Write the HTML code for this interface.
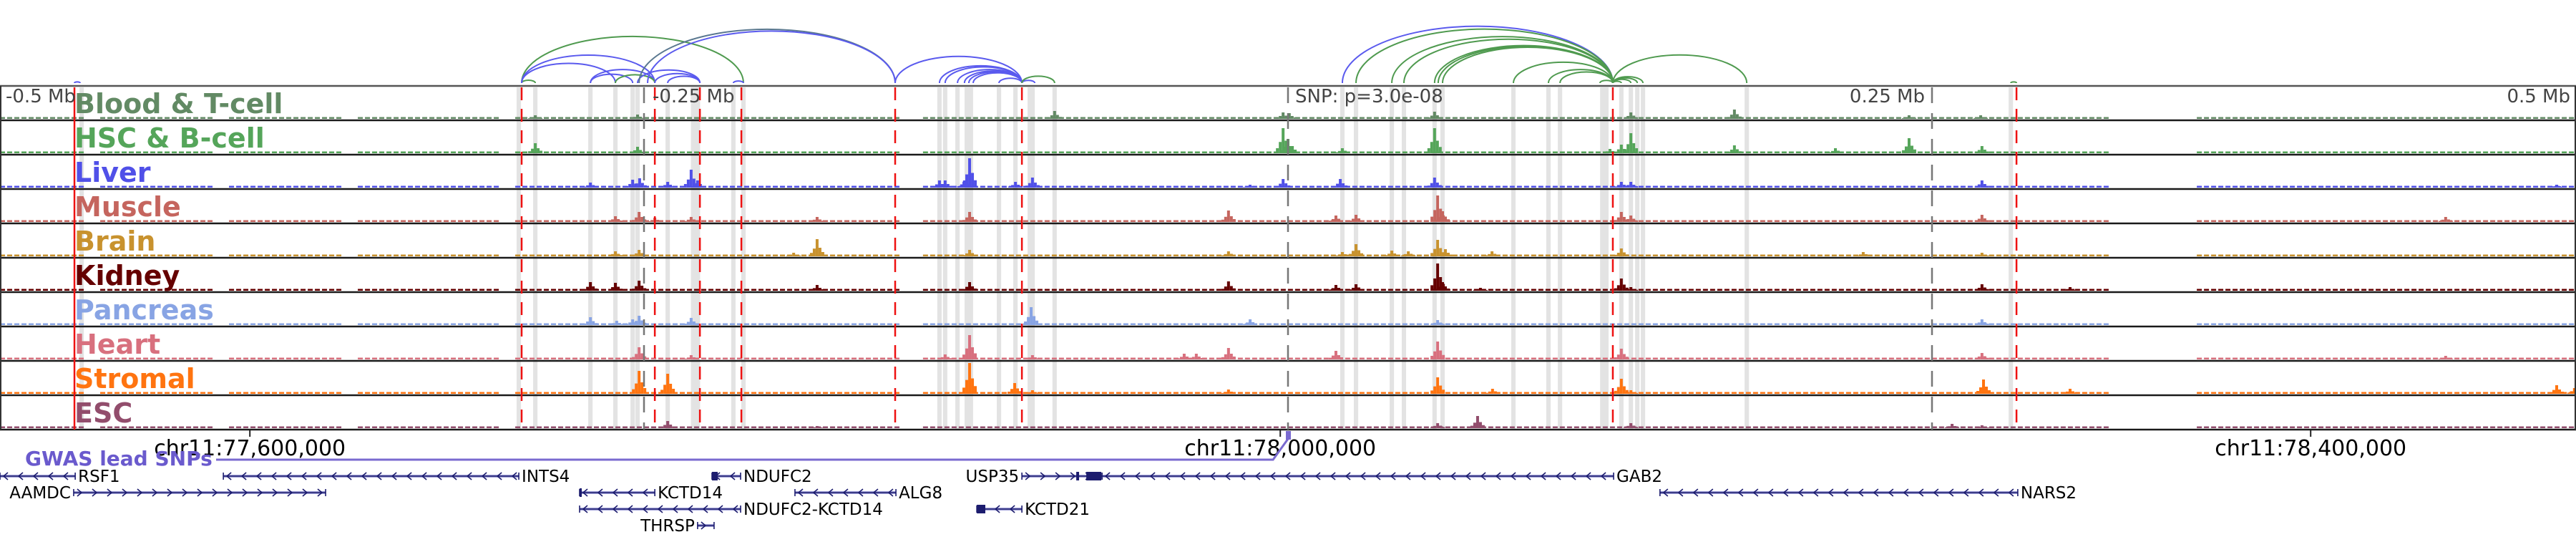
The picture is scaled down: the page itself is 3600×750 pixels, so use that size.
<!DOCTYPE html>
<html><head><meta charset="utf-8"><style>
html,body{margin:0;padding:0;background:#fff;}
svg{display:block;font-family:"DejaVu Sans","Liberation Sans",sans-serif;}
</style></head><body>
<svg id="fig" width="3600" height="750" viewBox="0 0 3600 750" xmlns="http://www.w3.org/2000/svg"></svg>
<script>
// ---- data (genomic offsets in kb relative to lead SNP at chr11:78,003,000) ----
const snpBp = 78003000;
const trackNames = ["Blood & T-cell","HSC & B-cell","Liver","Muscle","Brain","Kidney","Pancreas","Heart","Stromal","ESC"];
const trackColors = ["#628a64","#55a55a","#5050e8","#c5655e","#c8922e","#650000","#88a4e4","#d8707e","#ff7410","#924d6c"];
const gwasSnps = [-471.1,-297.5,-245.8,-228.3,-212.2,-152.5,-103.3,126.1,282.8];
const mbTicks = [-250,0,250];
const highlightBands = [[-468.3,1.7],[-298.6,1.7],[-292.2,1.7],[-270.8,1.7],[-261.1,1.7],[-254.4,1.7],[-252.5,1.7],[-240.8,1.7],[-230.0,3.6],[-215.3,1.7],[-211.4,1.7],[-135.3,1.7],[-133.1,1.7],[-128.3,1.7],[-123.9,3.3],[-112.2,1.7],[-105.8,1.7],[-99.7,2.8],[-90.6,1.7],[21.1,1.7],[26.4,1.7],[40.3,1.7],[45.0,1.7],[56.9,1.7],[60.0,1.7],[87.5,1.7],[101.1,1.7],[105.6,1.7],[122.8,3.3],[129.4,1.7],[133.1,1.7],[135.6,1.7],[137.8,1.7],[178.1,1.7],[280.6,1.7]];
const arcStarts = [-471.1,-297.5,-297.5,-297.5,-297.5,-270.8,-270.8,-261.1,-252.5,-240.8,-245.8,-251.9,-248.6,-215.3,-152.5,-135.3,-133.1,-128.3,-125.6,-123.9,-122.2,-112.2,-103.3,-103.3,21.1,26.4,40.3,45.0,56.9,58.3,60.0,87.5,101.1,105.6,121.1,126.1,126.1,126.1,126.1,126.1,280.6];
const arcEnds   = [-468.9,-292.2,-211.4,-261.1,-245.8,-245.8,-254.4,-245.8,-228.3,-228.3,-228.3,-152.5,-152.5,-211.4,-103.3,-103.3,-103.3,-103.3,-103.3,-103.3,-103.3,-103.3,-98.3,-90.6,126.1,126.1,126.1,126.1,126.1,126.1,126.1,126.1,126.1,126.1,126.1,129.4,133.1,135.6,137.8,178.1,282.8];
const arcTypes  = ["b","g","g","b","b","b","b","g","b","b","b","s","b","b","b","b","b","b","b","b","b","b","b","g","b","g","g","g","g","g","g","g","g","g","g","g","g","g","g","g","g"];
const background = [[-500,-466.7],[-461.1,-416.7],[-411.1,-366.7],[-361.1,-305.6],[-300,-150],[-141.7,316.7],[352.8,500]];
const peaksBlood = [[-292.2,5],[-252.5,6],[-90.6,11],[-1.9,9],[0.5,8],[56.9,10],[133.1,9],[173.3,13],[241.1,5],[268.9,5]];
const peaksHSC = [[-292.2,14],[-252.5,9],[-1.9,35],[0,20],[1.7,10],[21.1,7],[56.9,35],[133.1,28],[129.4,12],[125,6],[173.3,11],[212.5,7],[241.1,21],[269.4,10]];
const peaksLiver = [[-270.8,7],[-254.4,11],[-251.7,13],[-240.8,8],[-231.7,25],[-229.2,10],[-135.3,10],[-133.1,10],[-123.6,41],[-125.6,10],[-105.8,8],[-99.2,14],[-1.9,12],[20.3,12],[56.9,14],[129.4,8],[133.1,8],[-14.7,4],[269.4,10],[492.5,4]];
const peaksMuscle = [[-261.1,8],[-251.9,14],[-245.8,6],[-231.7,7],[-182.8,7],[-123.6,14],[-23.1,16],[18.6,9],[26.4,10],[58.1,37],[60,15],[129.4,14],[133.1,9],[269.4,10],[449.4,7]];
const peaksBrain = [[-261.1,7],[-251.9,9],[-182.8,24],[-191.9,5],[-123.6,9],[26.4,17],[21.1,6],[40.3,8],[46.7,7],[58.1,23],[61.1,10],[-23.1,7],[79.2,7],[129.4,11],[223.3,6],[269.4,5]];
const peaksKidney = [[-270.8,12],[-261.1,11],[-251.9,14],[-182.8,8],[-123.6,12],[-23.1,13],[18.6,8],[26.4,9],[58.1,38],[60,12],[129.4,17],[133.1,5],[74.7,4],[269.4,9],[303.6,5]];
const peaksPancreas = [[-270.8,11],[-260.6,6],[-254.4,8],[-251.9,13],[-231.7,10],[-99.7,25],[-14.7,8],[58.1,7],[269.4,8]];
const peaksHeart = [[-251.9,17],[-231.7,6],[-123.6,34],[-133.1,7],[-99.2,6],[-23.1,16],[-40.3,8],[-35.6,8],[18.6,12],[58.1,25],[129.4,15],[269.4,9],[449.4,5]];
const peaksStromal = [[-251.9,32],[-240.8,28],[-123.6,43],[-106.1,15],[-99.2,5],[-23.1,6],[58.1,23],[79.4,7],[129.4,21],[133.1,5],[270,20],[303.6,7],[492.5,12],[499.4,8]];
const peaksESC = [[-240.8,10],[-182.8,3],[73.6,17],[58.1,7],[133.1,7],[257.8,6],[269.4,4]];
const chrTicksBp = [77600000,78000000,78400000];
const chrTickLabels = ["chr11:77,600,000","chr11:78,000,000","chr11:78,400,000"];
const geneNames = ["RSF1","INTS4","NDUFC2","USP35","GAB2","NARS2","AAMDC","KCTD14","ALG8","NDUFC2-KCTD14","KCTD21","THRSP"];
const geneStarts = [-500,-413.3,-223.6,-103.3,-72.2,144.4,-471.4,-275,-191.4,-275,-120.8,-229.2];
const geneEnds = [-470.8,-298.6,-212.5,-72.2,126.4,283.3,-373.6,-245.8,-152.2,-212.5,-103.3,-222.8];
const geneStrands = ["-","-","-","+","-","-","+","-","-","-","-","+"];
const geneRows = [0,0,0,0,0,1,1,1,1,2,2,3];
const geneLabelSide = ["r","r","r","l","r","r","l","r","r","r","r","l"];
const exonStarts = [-223.6,-120.8,-82.2,-78.3,-275];
const exonEnds = [-221.4,-117.5,-81.1,-72.5,-274.2];
const exonRows = [0,2,0,0,1];

// ---- scales ----
const X0 = 1800, PXKB = 3.6;
function xs(off){ return X0 + off*PXKB; }
function bpToOff(bp){ return (bp - snpBp)/1000; }
const TOP = 120, TH = 48, SIGMAX = 44;
function ys(i, v){ return TOP + TH*(i+1) - 2 - v/SIGMAX*SIGMAX; }
const allPeaks = [peaksBlood,peaksHSC,peaksLiver,peaksMuscle,peaksBrain,peaksKidney,peaksPancreas,peaksHeart,peaksStromal,peaksESC];

const NS = "http://www.w3.org/2000/svg";
const svg = document.getElementById('fig');
function mk(tag, attrs, parent){ const e=document.createElementNS(NS,tag); for(const k in attrs) e.setAttribute(k,attrs[k]); (parent||svg).appendChild(e); return e; }

// highlight bands
const gBands = mk('g',{});


highlightBands.forEach(b=>{
  const w = Math.max(b[1]*PXKB,5);
  const r = mk('rect',{x:xs(b[0])-w/2,y:TOP+2,width:w,height:TH*10-2,fill:'#e3e3e3'},gBands);
  
  
});

// tracks
for(let i=0;i<10;i++){
  const g = mk('g',{});
  
  
  const base = TOP+TH*(i+1)-2;
  background.forEach(s=>{
    for(let x=xs(s[0]); x<xs(s[1]); x+=10){
      const r = mk('rect',{x:x,y:base-2.5,width:7,height:2.5,fill:trackColors[i]},g);
      
      
    }
  });
  allPeaks[i].forEach(p=>{
    const cx = xs(p[0]);
    const parts = [[-8,0.2],[-4,0.45],[0,1],[4,0.5],[8,0.25]];
    parts.forEach(q=>{
      const h = base - ys(i,p[1]*q[1]);
      const r = mk('rect',{x:cx+q[0]-2,y:base-h,width:4,height:h,fill:trackColors[i]},g);
      
      
    });
  });
  const t = mk('text',{x:104,y:TOP+TH*i+38,'font-size':38,'font-weight':'bold',fill:trackColors[i]},g);
  t.textContent = trackNames[i];
  
  
}

// borders
const gB = mk('g',{});


for(let i=0;i<=10;i++){
  mk('line',{x1:0,x2:3600,y1:TOP+TH*i,y2:TOP+TH*i,stroke:i==0?'#555':'#1a1a1a','stroke-width':2.5},gB);
}
mk('line',{x1:1,x2:1,y1:TOP,y2:TOP+TH*10,stroke:'#333','stroke-width':2},gB);
mk('line',{x1:3599,x2:3599,y1:TOP,y2:TOP+TH*10,stroke:'#333','stroke-width':2},gB);

// Mb dashed ticks
mbTicks.forEach(m=>{
  const l = mk('line',{x1:xs(m),x2:xs(m),y1:TOP+2,y2:TOP+TH*10,stroke:'#777','stroke-width':2.5,'stroke-dasharray':'22 14'});
  
  
});
// GWAS red lines
gwasSnps.forEach((s,k)=>{
  const l = mk('line',{x1:xs(s),x2:xs(s),y1:TOP+2,y2:TOP+TH*10,stroke:'#ee1111','stroke-width':2.5,'stroke-dasharray':k==0?'none':'18 12'});
  
  
});

// Mb labels
const mbLabs = [["-0.5 Mb",8,'start'],["-0.25 Mb",912,'start'],["SNP: p=3.0e-08",1810,'start'],["0.25 Mb",2690,'end'],["0.5 Mb",3592,'end']];
mbLabs.forEach(m=>{
  const t = mk('text',{x:m[1],y:143,'font-size':26,fill:'#444','text-anchor':m[2]});
  t.textContent=m[0];
  
  
});

// arcs
const arcColor = {b:'#5a5aee',g:'#4f9a4f',s:'#5a7890'};
const gA = mk('g',{fill:'none'});


for(let k=0;k<arcStarts.length;k++){
  const x1=xs(arcStarts[k]), x2=xs(arcEnds[k]);
  const span = Math.abs(x2-x1), ry = 0.21*span;
  const p = mk('path',{d:`M${x1} 116 A${span/2} ${ry} 0 0 1 ${x2} 116`,stroke:arcColor[arcTypes[k]],'stroke-width':2,fill:'none'},gA);
  
  
}

// chr axis
chrTicksBp.forEach((bp,k)=>{
  const x = xs(bpToOff(bp));
  const l = mk('line',{x1:x,x2:x,y1:601,y2:610,stroke:'#222','stroke-width':2});
  
  
  const t = mk('text',{x:x,y:636,'font-size':30,fill:'#000','text-anchor':'middle'});
  t.textContent = chrTickLabels[k];
  
  
});

// GWAS lead SNP track
const gw = mk('text',{x:35,y:650,'font-size':28,'font-weight':'bold',fill:'#6a5acd'});
gw.textContent='GWAS lead SNPs';


const gl = mk('polyline',{points:`302,642 ${xs(-5.8)},642 ${xs(0)},613`,fill:'none',stroke:'#7a6ad0','stroke-width':3});


const gm = mk('rect',{x:xs(0)-3,y:602,width:7,height:12,fill:'#7a6ad0'});



// genes
const rowY = [665,688,711,734];
for(let k=0;k<geneNames.length;k++){
  const g = mk('g',{});
  
  
  const x1=xs(geneStarts[k]), x2=xs(geneEnds[k]), y=rowY[geneRows[k]];
  mk('line',{x1:x1,x2:x2,y1:y,y2:y,stroke:'#a0a0d8','stroke-width':4},g);
  mk('line',{x1:x1,x2:x2,y1:y,y2:y,stroke:'#1c1c6e','stroke-width':1.6},g);
  mk('line',{x1:x1,x2:x1,y1:y-5,y2:y+5,stroke:'#1c1c6e','stroke-width':1.6},g);
  mk('line',{x1:x2,x2:x2,y1:y-5,y2:y+5,stroke:'#1c1c6e','stroke-width':1.6},g);
  const d = geneStrands[k]=='+'?1:-1;
  for(let x=x1+8; x<x2-4; x+=21){
    mk('polyline',{points:`${x-3*d},${y-5} ${x+3*d},${y} ${x-3*d},${y+5}`,fill:'none',stroke:'#1c1c6e','stroke-width':1.6},g);
  }
  const lt = geneLabelSide[k]=='r';
  const t = mk('text',{x:lt?x2+4:x1-4,y:y+8,'font-size':23,fill:'#000','text-anchor':lt?'start':'end'},g);
  t.textContent = geneNames[k];
}
for(let k=0;k<exonStarts.length;k++){
  const x1=xs(exonStarts[k]), x2=xs(exonEnds[k]), y=rowY[exonRows[k]];
  const r = mk('rect',{x:x1,y:y-6,width:Math.max(x2-x1,3),height:12,fill:'#1c1c6e'});
  
  
}
</script>
</body></html>
